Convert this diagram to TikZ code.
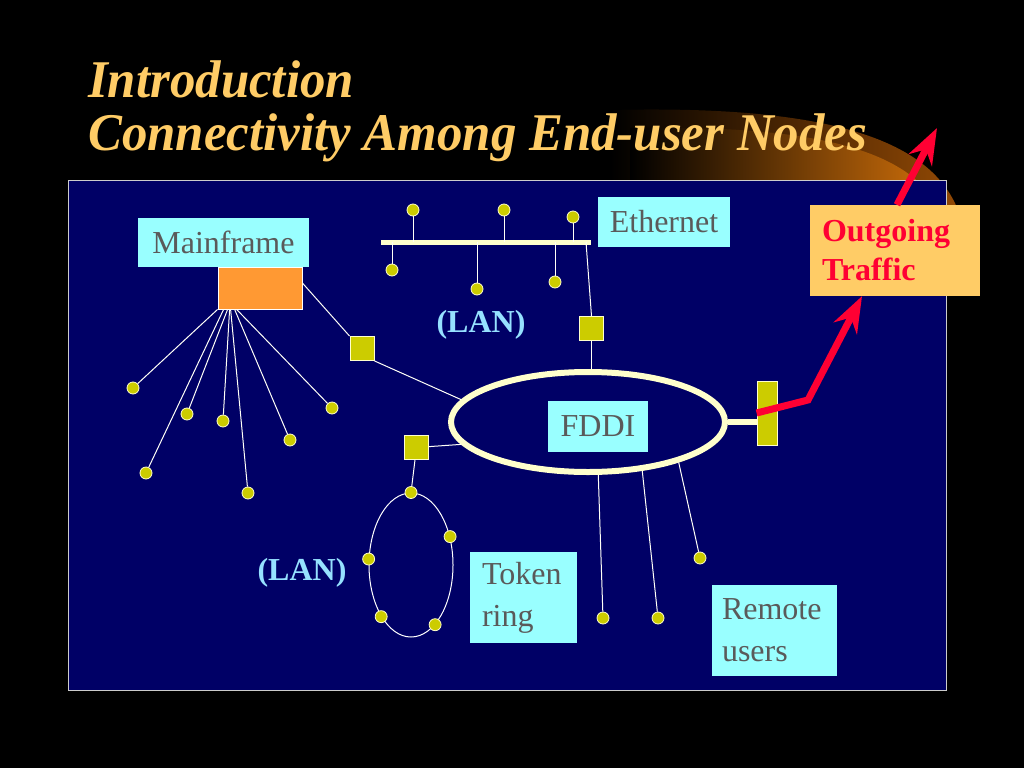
\documentclass[tikz,border=0pt]{standalone}
\usepackage{fontspec}
\setmainfont{Liberation Serif}
\usepackage{tikz}
\usetikzlibrary{shapes.geometric, arrows.meta, positioning, calc}
\definecolor{slidenavy}{RGB}{0,0,102}
\definecolor{labelcyan}{RGB}{153,255,255}
\definecolor{labelgray}{RGB}{90,90,90}
\definecolor{dotyellow}{RGB}{204,204,0}
\definecolor{cream}{RGB}{255,255,204}
\definecolor{trafficred}{RGB}{255,0,51}
\definecolor{titlegold}{RGB}{255,204,102}
\definecolor{lanblue}{RGB}{150,225,255}
\definecolor{mforange}{RGB}{255,153,51}
\definecolor{glow}{RGB}{215,115,10}
\definecolor{glowdark}{RGB}{150,75,5}
\tikzstyle{traffic} = [line width=7pt, draw=trafficred, -{Stealth[length=36pt, width=26pt, inset=12pt]}]

\begin{document}
\begin{tikzpicture}[x=1pt, y=-1pt,
  tag/.style={fill=labelcyan, text=labelgray, inner sep=0pt, font=\fontsize{32}{42}\selectfont},
  dot/.style={circle, fill=dotyellow, draw=cream, line width=0.8pt, minimum size=12pt, inner sep=0pt},
  hub/.style={rectangle, fill=dotyellow, draw=cream, line width=0.8pt, minimum size=24pt, inner sep=0pt},
  wire/.style={draw=white!85!cream, line width=1pt},
  trunk/.style={draw=cream, line width=6pt},
  lan/.style={text=lanblue, font=\fontsize{32}{40}\selectfont\bfseries},
  headline/.style={anchor=base west, text=titlegold, inner sep=0pt, xscale=0.96, font=\fontsize{53}{60}\selectfont\bfseries\itshape}
]

% Slide background, glow and title
\fill[black] (0,0) rectangle (1024,768);
\useasboundingbox (0,0) rectangle (1024,768);
\shade[left color=black, right color=glowdark] (610,110) .. controls (860,104) and (962,150) .. (966,250)
  -- (930,250) .. controls (925,210) and (850,200) .. (610,200) -- cycle;
\shade[left color=black, right color=glow] (630,128) .. controls (850,124) and (944,160) .. (950,250)
  -- (930,250) .. controls (925,210) and (850,200) .. (630,200) -- cycle;
\node[headline] (title1) at (88,97) {Introduction};
\node[headline] (title2) at (88,150) {Connectivity Among End-user Nodes};

% Panel
\draw[fill=slidenavy, draw=white!80!black, line width=1pt] (68,180) rectangle (946,690);

% Mainframe and its terminals
\node[tag, minimum width=171pt, minimum height=49pt] (mflabel) at (223.5,242.5) {Mainframe};
\node[rectangle, fill=mforange, draw=white, line width=0.8pt, minimum width=84pt, minimum height=42pt, inner sep=0pt] (mf) at (260,288) {};
\node[dot] (m1) at (133,388) {};
\node[dot] (m2) at (146,473) {};
\node[dot] (m3) at (187,414) {};
\node[dot] (m4) at (223,421) {};
\node[dot] (m5) at (248,493) {};
\node[dot] (m6) at (290,440) {};
\node[dot] (m7) at (332,408) {};
\foreach \d/\dx in {m1/0, m2/6, m3/10, m4/12, m5/13, m6/17, m7/19}
  \draw[wire] ([xshift=\dx pt]mf.south west) -- (\d);

% Ethernet
\coordinate (busL) at (381,242);
\coordinate (busR) at (591,242);
\draw[trunk, line width=5pt] (busL) -- (busR);
\node[dot] (e1) at (413,210) {};
\node[dot] (e2) at (504,210) {};
\node[dot] (e3) at (573,217) {};
\node[dot] (e4) at (392,270) {};
\node[dot] (e5) at (477,289) {};
\node[dot] (e6) at (555,282) {};
\foreach \d in {e1,e2,e3,e4,e5,e6}
  \draw[wire] (\d) -- (\d |- busL);
\node[tag, minimum width=132pt, minimum height=50pt] (ethlabel) at (664,222) {Ethernet};
\node[lan] (lan1) at (481,325) {(LAN)};

% FDDI ring
\node[draw=cream, line width=6pt, ellipse, minimum width=274pt, minimum height=100pt] (fddi) at (588,422) {};
\node[tag, minimum width=100pt, minimum height=51pt] (fddilabel) at (598,426.5) {FDDI};
\node[hub] (sq1) at (362,348.5) {};
\node[hub] (sq2) at (591.5,328.5) {};
\node[hub] (sq3) at (416.5,447.5) {};
\node[hub, minimum width=20pt, minimum height=64pt] (gw) at (767,413) {};
\draw[wire] ([xshift=-5pt]busR) -- (sq2.north);
\draw[wire] (sq2.south) -- (sq2.south |- fddi.north);
\draw[wire] ([yshift=5pt]mf.east) -- (sq1.north west);
\draw[wire] (sq1.south east) -- (fddi.170);
\draw[wire] (sq3) -- (fddi.190);
\draw[trunk] (fddi.east) -- (fddi.east -| gw.west);

% Token ring
\node[draw=white, line width=1pt, ellipse, minimum width=84pt, minimum height=144pt] (tr) at (411,565) {};
\node[dot] (t1) at (tr.north) {};
\node[dot] (t2) at (tr.36) {};
\node[dot] (t3) at (tr.172) {};
\node[dot] (t4) at (tr.240) {};
\node[dot] (t5) at (tr.292) {};
\draw[wire] (sq3) -- (t1);
\node[lan] (lan2) at (302,573) {(LAN)};
\node[tag, align=left, text width=83pt, inner xsep=12pt, minimum height=91pt] (trlabel) at (523.5,597.5) {Token\\ring};

% Remote users
\node[dot] (r1) at (603,618) {};
\node[dot] (r2) at (658,618) {};
\node[dot] (r3) at (700,558) {};
\draw[wire] (fddi.281) -- (r1);
\draw[wire] (fddi.318) -- (r2);
\draw[wire] (fddi.336) -- (r3);
\node[tag, align=left, text width=105pt, inner xsep=10pt, minimum height=91pt] (rulabel) at (774.5,630.5) {Remote\\users};

% Outgoing traffic
\node[tag, fill=titlegold, text=trafficred, font=\fontsize{32}{39}\selectfont\bfseries, align=left, text width=146pt, inner xsep=12pt, minimum height=91pt] (og) at (895,250.5) {Outgoing\\Traffic};
\coordinate (bend) at (808,400);
\coordinate (out) at (937,128);
\draw[traffic] (gw.west) -- (bend) -- ([xshift=-33pt]og.south);
\draw[traffic] ([xshift=2pt]og.north) -- (out);

\end{tikzpicture}
\end{document}
